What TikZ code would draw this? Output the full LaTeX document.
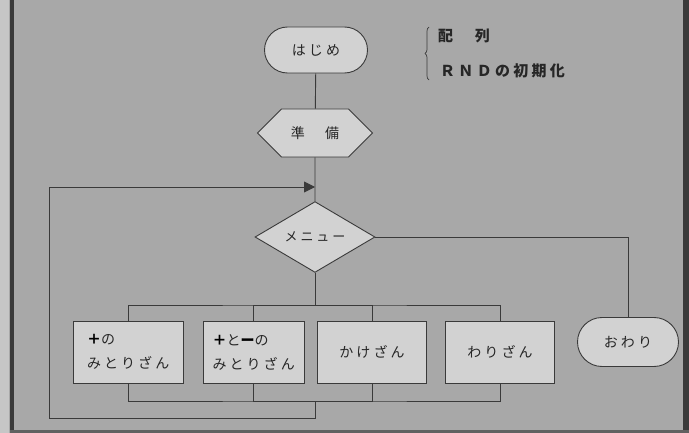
\documentclass[tikz,border=0pt]{standalone}
\usepackage{fontspec}
\setmainfont{Noto Sans CJK JP}[LetterSpace=22]
\usetikzlibrary{shapes.misc,shapes.geometric,shapes.symbols,arrows.meta,decorations.pathreplacing}
\definecolor{bgc}{HTML}{A8A8A8}
\definecolor{fillc}{HTML}{D2D2D2}
\definecolor{linec}{HTML}{3A3A3A}
\definecolor{txtc}{HTML}{262626}
\tikzset{
  conn/.style={draw=linec, line width=0.9pt},
  term/.style={rounded rectangle, draw=linec, line width=0.9pt, fill=fillc, text=txtc, inner sep=0pt, font=\fontsize{14}{16}\selectfont},
  prepbox/.style={signal, signal to=west and east, draw=linec, line width=0.9pt, fill=fillc, text=txtc, inner sep=0pt, font=\fontsize{14}{16}\selectfont},
  decbox/.style={diamond, draw=linec, line width=0.9pt, fill=fillc, text=txtc, inner sep=0pt, font=\fontsize{13}{16}\selectfont},
  procbox/.style={rectangle, draw=linec, line width=0.9pt, fill=fillc, text=txtc, inner sep=0pt, minimum height=62pt, font=\fontsize{14}{24}\selectfont},
  note/.style={text=txtc, inner sep=0pt, anchor=west, font=\bfseries\fontsize{15}{18}\selectfont}
}
\begin{document}
\begin{tikzpicture}[x=1pt,y=-1pt]
\useasboundingbox (0,0) rectangle (689,433);
\fill[bgc] (0,0) rectangle (689,433);
\fill[gray!45] (0,0) rectangle (9,433);
\fill[linec] (10,0) rectangle (14,433);
\fill[linec] (683,0) rectangle (689,433);
\fill[linec!80] (10,430) rectangle (689,433);

% nodes
\node[term, minimum width=103pt, minimum height=46pt] (start) at (316,50) {はじめ};
\node[prepbox, minimum width=115pt, minimum height=48pt] (prep) at (315,133) {準　備};
\node[decbox, minimum width=120pt, minimum height=68pt] (menu) at (315,237) {メニュー};
\node[procbox, minimum width=110pt, align=left, text width=82pt] (box1) at (128,352) {{\bfseries\color{black}＋}の\\みとりざん};
\node[procbox, minimum width=101pt, align=left, text width=82pt] (box2) at (253.5,352) {{\bfseries\color{black}＋}と{\bfseries\color{black}ー}の\\みとりざん};
\node[procbox, minimum width=109pt] (box3) at (372,352) {かけざん};
\node[procbox, minimum width=109pt] (box4) at (500,352) {わりざん};
\node[term, minimum width=101pt, minimum height=49pt] (end) at (628,342) {おわり};

% annotation
\node[note] (n1) at (438,36) {配　列};
\node[note] (n2) at (440,71) {ＲＮＤの初期化};
\coordinate (bt) at (429,27);
\coordinate (bb2) at (429,80);
\draw[linec, line width=0.7pt, decorate, decoration={brace, amplitude=4pt}] (bb2) -- (bt);

% connectors
\coordinate (merge) at (315,187);
\coordinate (tb) at (315,305);
\coordinate (bb) at (315,401);
\coordinate (c1) at (315,418);
\coordinate (c2) at (49,418);
\coordinate (c3) at (49,187);

\draw[conn] (start) -- (prep);
\draw[conn] (prep) -- (menu);
\draw[conn] (menu.south) -- (tb);
\draw[conn] (box1.north) |- (tb) -| (box4.north);
\draw[conn] (box2.north) |- (tb);
\draw[conn] (box3.north) |- (tb);
\draw[conn] (box1.south) |- (bb) -| (box4.south);
\draw[conn] (box2.south) |- (bb);
\draw[conn] (box3.south) |- (bb);
\draw[conn, -{Triangle[length=11pt,width=11pt]}] (bb) -- (c1) -- (c2) -- (c3) -- (merge);
\draw[conn] (menu.east) -| (end.north);
\end{tikzpicture}
\end{document}
